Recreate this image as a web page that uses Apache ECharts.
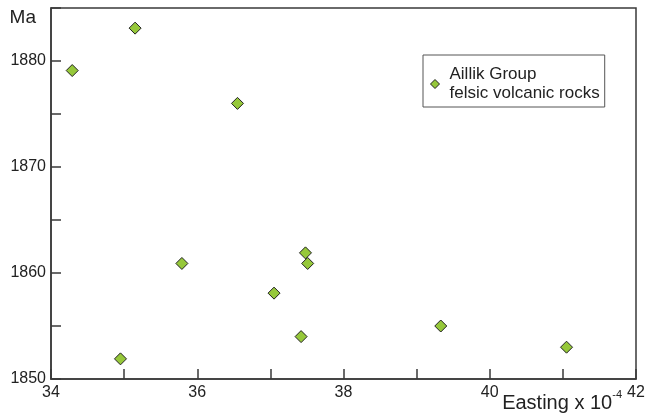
<!DOCTYPE html>
<html>
<head>
<meta charset="utf-8">
<script src="https://cdn.jsdelivr.net/npm/echarts@6/dist/echarts.min.js"></script>
<style>html,body{margin:0;padding:0;background:#fff}#c{width:646px;height:417px}</style>
</head>
<body>
<div id="c"></div>
<script>
// Data
var seriesName = 'Aillik Group\nfelsic volcanic rocks';
var easting = [34.29, 35.15, 36.55, 35.79, 34.95, 37.05, 37.48, 37.51, 37.42, 39.33, 41.05];
var ageMa   = [1879.1, 1883.1, 1876.0, 1860.9, 1851.9, 1858.1, 1861.9, 1860.9, 1854.0, 1855.0, 1853.0];
var xLabels = [34, 36, 38, 40, 42];
var yLabels = [1850, 1860, 1870, 1880];

var points = easting.map(function (x, i) { return [x, ageMa[i]]; });
var axisColor = '#3a3a3a';
var markerColor = '#96c83a';
var font = 'Liberation Sans, Arial, sans-serif';

var chart = echarts.init(document.getElementById('c'), null, { renderer: 'canvas' });
chart.setOption({
  animation: false,
  backgroundColor: '#fff',
  grid: { left: 51, top: 8, right: 10, bottom: 38, containLabel: false, outerBoundsMode: 'none', show: true, borderColor: axisColor, borderWidth: 1.5, backgroundColor: 'transparent' },
  legend: {
    left: 423, top: 55,
    orient: 'vertical',
    padding: [10, 5, 4, 7],
    borderColor: '#555', borderWidth: 1,
    icon: 'diamond', itemWidth: 9, itemHeight: 9,
    itemStyle: { color: markerColor, borderColor: '#222', borderWidth: 1 },
    textStyle: { fontFamily: font, fontSize: 17, color: '#222', lineHeight: 19, padding: [0, 0, 0, 5] },
    data: [seriesName]
  },
  xAxis: {
    type: 'value', min: 34, max: 42, interval: 1,
    axisLine: { show: true, lineStyle: { color: axisColor, width: 1.5 } },
    axisTick: { show: true, inside: true, length: 10, lineStyle: { color: axisColor, width: 1.5 } },
    splitLine: { show: false },
    axisLabel: {
      margin: 6, fontFamily: font, fontSize: 16, color: '#222',
      formatter: function (v) { return xLabels.indexOf(v) >= 0 ? String(v) : ''; }
    },
    name: '{a|Easting x 10}{s|-4}',
    nameLocation: 'end', nameGap: -14, nameMoveOverlap: false,
    nameTextStyle: {
      align: 'right', verticalAlign: 'top', padding: [10, 0, 0, 0],
      rich: {
        a: { fontFamily: font, fontSize: 20, color: '#222', lineHeight: 28 },
        s: { fontFamily: font, fontSize: 11, color: '#222', verticalAlign: 'top', lineHeight: 12 }
      }
    }
  },
  yAxis: {
    type: 'value', min: 1850, max: 1885, interval: 5,
    axisLine: { show: true, lineStyle: { color: axisColor, width: 1.5 } },
    axisTick: { show: true, inside: true, length: 10, lineStyle: { color: axisColor, width: 1.5 } },
    splitLine: { show: false },
    axisLabel: {
      margin: 5, fontFamily: font, fontSize: 16, color: '#222',
      formatter: function (v) { return yLabels.indexOf(v) >= 0 ? String(v) : ''; }
    },
    name: 'Ma', nameLocation: 'end', nameGap: -10, nameMoveOverlap: false,
    nameTextStyle: { fontFamily: font, fontSize: 19, color: '#222', align: 'right', verticalAlign: 'middle', padding: [0, 15, 0, 0] }
  },
  series: [{
    name: seriesName,
    type: 'scatter',
    symbol: 'diamond', symbolSize: 12,
    itemStyle: { color: markerColor, borderColor: '#222', borderWidth: 1, opacity: 1 },
    data: points
  }]
});
</script>
</body>
</html>
